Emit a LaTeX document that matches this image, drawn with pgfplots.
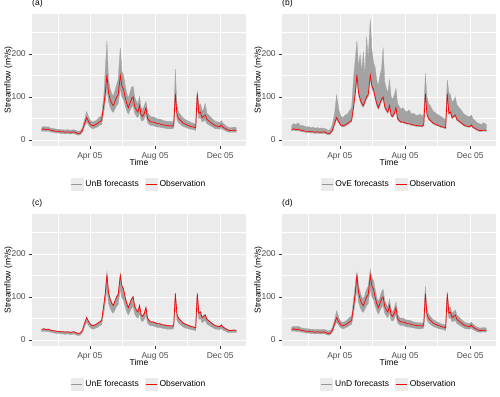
\documentclass[border=0pt]{standalone}
\usepackage{fontspec}
\setmainfont{Liberation Sans}
\usepackage{pgfplots}
\pgfplotsset{compat=1.18}
\usepackage{pgfplotstable}

\definecolor{panelbg}{RGB}{235,235,235}
\definecolor{ensfill}{RGB}{163,163,163}
\definecolor{enskey}{RGB}{150,150,150}
\definecolor{ticktext}{RGB}{77,77,77}
\definecolor{tickmark}{RGB}{51,51,51}

% day of 2005, observed flow, and lower/upper envelope of each forecast ensemble
\pgfplotstableread{
day obs aLo aHi bLo bHi cLo cHi dLo dHi
1   24  20 29   21 34   19 25   20 30
5   26  21 32   23 38   21 27   21 32
9   24  20 30   21 36   19 25   20 31
13  25  21 31   22 40   20 26   20 32
17  23  19 28   20 33   18 24   19 29
21  22  18 27   19 34   17 23   18 28
25  21  17 26   18 32   16 22   17 27
29  20  16 25   17 30   15 21   16 26
33  20  16 25   17 31   15 21   16 26
37  19  15 24   16 28   14 20   15 25
41  19  15 24   16 30   14 20   15 25
45  18  14 23   15 27   13 19   14 24
49  19  15 24   16 29   14 20   15 25
53  18  14 23   15 27   13 19   14 24
57  18  14 23   15 28   13 19   14 24
61  19  15 24   16 27   14 20   15 25
65  17  13 22   14 26   12 18   13 23
69  15  11 20   12 22   10 16   11 21
73  16  12 21   13 24   11 17   12 22
77  22  18 28   19 35   17 23   18 28
81  38  31 47   35 60   30 39   31 46
85  52  42 66   48 105  42 53   42 68
89  42  34 52   39 70   33 43   34 52
93  35  28 44   32 55   27 36   28 43
97  33  26 42   30 52   25 34   26 41
101 35  28 44   32 58   27 36   28 43
105 38  30 48   35 60   29 39   30 47
109 42  34 53   39 68   33 43   34 52
113 45  36 57   42 75   35 46   36 56
117 80  64 100  75 150  62 82   64 98
120 110 88 165  104 190 85 112  88 130
123 152 122 230 145 230 120 160 122 158
126 110 88 140  104 170 85 112  88 128
129 95  76 120  90 200  74 97   76 112
132 85  68 108  80 160  66 87   68 100
135 80  64 102  76 205  62 82   64 95
138 90  72 115  85 150  70 92   72 106
141 100 80 128  95 240  78 102  80 118
144 105 84 140  100 190 82 108  84 124
148 150 120 215 144 280 118 154 120 165
151 125 100 160 118 210 98 128  100 145
154 118 94 150  112 180 92 120  94 138
157 100 80 128  95 170  78 102  80 118
160 85  68 110  80 140  66 87   68 100
163 75  60 97   71 125  58 77   60 89
166 85  68 110  80 150  66 87   68 100
169 95  76 122  90 165  74 97   76 112
172 100 80 125  95 215  78 102  80 118
175 78  62 100  74 135  60 80   62 92
178 70  56 90   66 120  54 72   56 83
181 65  52 84   62 110  50 67   52 77
184 80  64 102  76 140  62 82   64 95
187 58  46 75   55 100  45 60   46 69
190 55  44 71   52 95   43 57   44 65
193 62  50 80   59 105  48 64   50 74
196 75  60 90   71 120  58 77   60 89
199 50  40 65   47 85   39 52   40 60
202 45  36 58   43 78   35 46   36 54
205 42  34 54   40 72   33 43   34 50
209 42  34 54   40 75   33 43   34 51
213 40  32 52   38 68   31 41   32 48
217 38  30 49   36 65   29 39   30 46
221 38  30 49   36 70   29 39   30 46
225 36  29 47   34 60   28 37   29 44
229 35  28 45   33 62   27 36   28 42
233 34  27 44   32 58   26 35   27 41
237 33  26 43   31 57   25 34   26 40
241 33  26 43   31 60   25 34   26 40
245 32  26 42   30 55   25 33   26 39
248 35  28 46   33 60   27 36   28 42
251 108 86 165  102 155 84 110  86 125
254 60  48 78   57 100  46 62   48 72
257 50  40 65   47 85   39 52   40 60
261 45  36 58   43 78   35 46   36 54
265 40  32 52   38 68   31 41   32 48
269 37  30 48   35 64   28 38   30 45
273 35  28 45   33 60   27 36   28 42
277 33  26 43   31 57   25 34   26 40
281 31  25 40   29 54   24 32   25 37
285 30  24 39   28 50   23 31   24 36
289 28  22 36   26 48   21 29   22 34
292 108 86 115  102 140 84 110  86 112
295 62  50 80   59 110  48 64   50 74
298 65  52 84   62 105  50 67   52 77
301 52  42 68   49 88   40 54   42 62
304 55  44 72   52 92   43 57   44 66
307 58  46 85   55 100  45 60   46 70
310 48  38 62   45 82   37 50   38 58
314 44  35 57   42 75   34 45   35 53
318 40  32 52   38 70   31 41   32 48
322 36  29 47   34 62   28 37   29 44
326 33  26 43   31 58   25 34   26 40
330 32  26 42   30 55   25 33   26 39
334 31  25 40   29 54   24 32   25 38
337 35  28 45   33 58   27 36   28 42
340 30  24 39   28 50   23 31   24 37
344 27  22 35   25 45   21 28   22 33
348 24  19 31   22 40   18 25   19 30
352 22  18 29   20 38   17 23   18 28
356 22  18 29   20 36   17 23   18 28
360 23  18 30   21 40   18 24   19 29
365 22  18 29   20 36   17 23   18 28
}\flow

\pgfplotsset{ggpanel/.style={
    scale only axis, width=214pt, height=132pt,
    xmin=-17.2, xmax=383.2, ymin=-14, ymax=293,
    axis background/.style={fill=panelbg},
    axis line style={draw=none},
    xtick={91,213,335}, xticklabels={Apr 05,Aug 05,Dec 05},
    minor xtick={32,152,274},
    ytick={0,100,200}, minor ytick={50,150,250},
    grid=both,
    major grid style={white, line width=0.6pt},
    minor grid style={white, line width=0.3pt},
    tick align=outside, xtick pos=bottom, ytick pos=left,
    major tick length=2.75pt, minor tick length=0pt,
    tick style={tickmark, line width=0.5pt},
    tick label style={font=\fontsize{8.5}{10}\selectfont, text=ticktext},
    /pgf/number format/assume math mode=true,
    xlabel={Time}, ylabel={Streamflow (m³/s)},
    label style={font=\fontsize{8.5}{10}\selectfont},
    xlabel style={at={(axis description cs:0.5,-0.127)}, anchor=center},
    ylabel style={at={(axis description cs:-0.11,0.5)}, anchor=center},
    title style={at={(axis description cs:0,1)}, anchor=base west,
        font=\fontsize{8.5}{10}\selectfont, inner sep=0pt, yshift=2.5pt},
    legend columns=2,
    legend style={at={(0.5,-0.288)}, anchor=center, draw=none, fill=none,
        font=\fontsize{8.5}{10}\selectfont,
        /tikz/every even column/.append style={column sep=4pt}},
    legend image code/.code={
        \fill[panelbg] (0pt,-6pt) rectangle (12pt,6pt);
        \draw[##1] (0.5pt,0pt) -- (11.5pt,0pt);},
}}

\begin{document}
\begin{tikzpicture}
\path[use as bounding box] (0,0) rectangle (500pt,396pt);

\begin{axis}[ggpanel, at={(32pt,250pt)}, anchor=south west, title={(a)}]
\addlegendimage{enskey, line width=0.8pt}
\addlegendentry{UnB forecasts}
\addlegendimage{red, line width=0.8pt}
\addlegendentry{Observation}
\addplot[draw=none, stack plots=y, forget plot] table[x=day, y=aLo]{\flow};
\addplot[fill=ensfill, draw=ensfill, line width=0.3pt, stack plots=y, forget plot]
    table[x=day, y expr=\thisrow{aHi}-\thisrow{aLo}]{\flow} \closedcycle;
\addplot[red, line width=0.7pt, stack plots=false, forget plot] table[x=day, y=obs]{\flow};
\end{axis}

\begin{axis}[ggpanel, at={(282pt,250pt)}, anchor=south west, title={(b)}]
\addlegendimage{enskey, line width=0.8pt}
\addlegendentry{OvE forecasts}
\addlegendimage{red, line width=0.8pt}
\addlegendentry{Observation}
\addplot[draw=none, stack plots=y, forget plot] table[x=day, y=bLo]{\flow};
\addplot[fill=ensfill, draw=ensfill, line width=0.3pt, stack plots=y, forget plot]
    table[x=day, y expr=\thisrow{bHi}-\thisrow{bLo}]{\flow} \closedcycle;
\addplot[red, line width=0.7pt, stack plots=false, forget plot] table[x=day, y=obs]{\flow};
\end{axis}

\begin{axis}[ggpanel, at={(32pt,50pt)}, anchor=south west, title={(c)}]
\addlegendimage{enskey, line width=0.8pt}
\addlegendentry{UnE forecasts}
\addlegendimage{red, line width=0.8pt}
\addlegendentry{Observation}
\addplot[draw=none, stack plots=y, forget plot] table[x=day, y=cLo]{\flow};
\addplot[fill=ensfill, draw=ensfill, line width=0.3pt, stack plots=y, forget plot]
    table[x=day, y expr=\thisrow{cHi}-\thisrow{cLo}]{\flow} \closedcycle;
\addplot[red, line width=0.7pt, stack plots=false, forget plot] table[x=day, y=obs]{\flow};
\end{axis}

\begin{axis}[ggpanel, at={(282pt,50pt)}, anchor=south west, title={(d)}]
\addlegendimage{enskey, line width=0.8pt}
\addlegendentry{UnD forecasts}
\addlegendimage{red, line width=0.8pt}
\addlegendentry{Observation}
\addplot[draw=none, stack plots=y, forget plot] table[x=day, y=dLo]{\flow};
\addplot[fill=ensfill, draw=ensfill, line width=0.3pt, stack plots=y, forget plot]
    table[x=day, y expr=\thisrow{dHi}-\thisrow{dLo}]{\flow} \closedcycle;
\addplot[red, line width=0.7pt, stack plots=false, forget plot] table[x=day, y=obs]{\flow};
\end{axis}
\end{tikzpicture}
\end{document}
